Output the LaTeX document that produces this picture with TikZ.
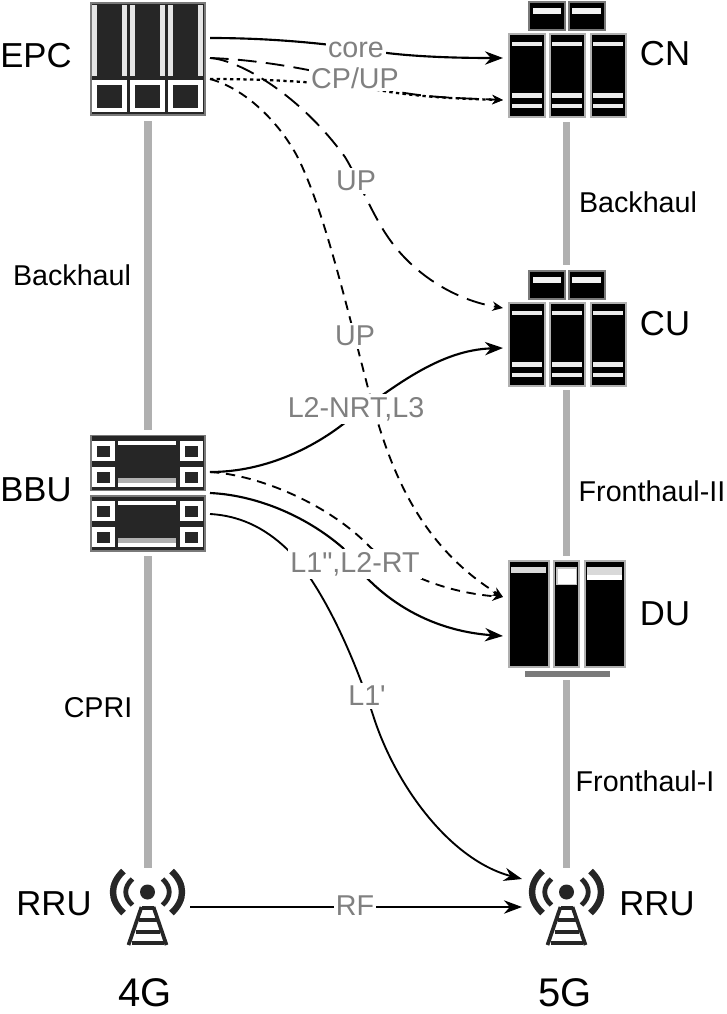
\documentclass[tikz,border=0pt]{standalone}
\usepackage{fontspec}
\setmainfont{Liberation Sans}[Ligatures=TeXOff]
\usetikzlibrary{arrows.meta}
\definecolor{ink}{HTML}{262626}
\definecolor{rim}{HTML}{7A7A7A}
\definecolor{pale}{HTML}{B0B0B0}
\definecolor{lab}{HTML}{808080}
\newcommand{\fs}[1]{\fontsize{#1}{#1}\selectfont}
\tikzset{
 x=0.75pt,y=-0.75pt,
 link/.style={pale,line width=5.5pt},
 conn/.style={black,line width=1.6pt,-{Stealth[length=13.5pt,width=10pt]}},
 thin conn/.style={black,line width=1.4pt,-{Stealth[length=8pt,width=7pt]}},
 dconn/.style={thin conn,dash pattern=on 14pt off 7pt},
 sdconn/.style={thin conn,dash pattern=on 7pt off 5pt},
 dotconn/.style={thin conn,line width=1.7pt,dash pattern=on 2.5pt off 2.5pt},
 hub/.style={inner sep=0pt,outer sep=0pt},
 linklab/.style={lab,fill=white,inner xsep=1.5pt,inner ysep=2pt,font=\fs{21.5}},
 blk/.style={black,inner sep=0pt,font=\fs{21.5}},
 big/.style={black,inner sep=0pt,font=\fs{26}},
 huge/.style={black,inner sep=0pt,font=\fs{30}},
}
\newcommand{\rackcol}[4]{\fill[black,draw=pale,line width=1.5pt] (#1,#3) rectangle (#2,#4);}
\newcommand{\stripe}[5][white]{\fill[#1] (#2,#3) rectangle (#4,#5);}
\newcommand{\server}[1]{%
 \begin{scope}[yshift=#1*-0.75pt]
  \fill[black,draw=rim,line width=1pt] (529,2) rectangle (565,30);
  \fill[black,draw=rim,line width=1pt] (569,2) rectangle (605,30);
  \stripe[gray!10]{533}{8}{561}{14}\stripe[gray!10]{572}{8}{601}{14}
  \foreach \a/\b in {509/544.5,549.5/585,590.5/626}{
   \rackcol{\a}{\b}{34}{117}
   \stripe[gray!15]{\a+2.5}{41.5}{\b-3}{45.7}
   \stripe[gray!15]{\a+2.5}{93}{\b-3}{97.5}
   \stripe[gray!15]{\a+2.5}{104}{\b-3}{108}
  }
 \end{scope}}
\newcommand{\bbu}[1]{%
 \begin{scope}[yshift=#1*-0.75pt]
  \fill[ink,draw=rim,line width=1.2pt] (91,0) rectangle (205,55);
  \foreach \a in {92,180}{\foreach \b in {5,31}{
   \fill[white] (\a,\b) rectangle (\a+23,\b+20);
   \fill[ink] (\a+5,\b+5) rectangle (\a+18,\b+16);}}
  \fill[white] (118,5) rectangle (176,9);
  \fill[white] (118,42) rectangle (176,51);
  \fill[pale] (118,42) rectangle (176,47);
 \end{scope}}
\newcommand{\mast}[2]{%
 \begin{scope}[shift={(#1,#2)}]
 \fill[ink] (0,0) circle[radius=7.5];
 \foreach \s in {-1,1}{
  \draw[ink,line width=4.8pt] (\s*24,-21) .. controls (\s*38,-8) and (\s*38,8) .. (\s*24,21);
  \draw[ink,line width=3.6pt] (\s*15,-13) .. controls (\s*24,-5) and (\s*24,5) .. (\s*15,13);
 }
 \draw[ink,line width=2.8pt] (-6,15) -- (-19,53) (6,15) -- (19,53);
 \draw[ink,line width=2.4pt] (-6,16) -- (6,16) (-9,28) -- (9,28) (-12,40) -- (12,40) (-16,51) -- (16,51);
 \end{scope}}
\begin{document}
\begin{tikzpicture}
\useasboundingbox (0,0) rectangle (726,1014);
% named hubs
\node[hub] (epc) at (148,59) {};
\node[hub] (bbu) at (148,493) {};
\node[hub] (rrua) at (148,892) {};
\node[hub] (cn) at (566,75) {};
\node[hub] (cu) at (566,343) {};
\node[hub] (du) at (566,615) {};
\node[hub] (rrub) at (566,892) {};
\coordinate (epcS) at (148,121);\coordinate (bbuN) at (148,430);\coordinate (bbuS) at (148,556);\coordinate (rruaN) at (148,868);
\coordinate (cnS) at (566.5,122);\coordinate (cuN) at (566.5,265);\coordinate (cuS) at (566.5,390);\coordinate (duN) at (566.5,556);\coordinate (duS) at (566.5,680);\coordinate (rrubN) at (566.5,868);
\coordinate (e1) at (210,38);\coordinate (e2) at (210,58);\coordinate (e3) at (210,79);
\coordinate (b1) at (210,472);\coordinate (b2) at (210,493);\coordinate (b3) at (210,514);
\coordinate (cn1) at (503,58);\coordinate (cn2) at (503,100);\coordinate (cu1) at (503,308);\coordinate (cu2) at (503,348);
\coordinate (du1) at (503,597);\coordinate (du2) at (503,636);\coordinate (rb) at (522,879);\coordinate (rb2) at (522,907);\coordinate (ra) at (190,907);
% links
\draw[link] (epcS)--(bbuN);\draw[link] (bbuS)--(rruaN);
\draw[link] (cnS)--(cuN);\draw[link] (cuS)--(duN);\draw[link] (duS)--(rrubN);
% EPC
\fill[ink,draw=rim,line width=1.2pt] (91,3) rectangle (205,115);
\foreach \a in {92,130,168}{
 \fill[gray!20] (\a,5) rectangle (\a+5,76);
 \fill[gray!20] (\a+30,5) rectangle (\a+35,76);
 \fill[white] (\a,80) rectangle (\a+35,112);
 \fill[ink] (\a+5,85) rectangle (\a+30,108);
}
% servers
\server{0}\server{269}
% DU
\rackcol{508.5}{549}{561}{667}\rackcol{554}{579}{561}{667}\rackcol{585}{625}{561}{667}
\stripe[gray!30]{511}{567}{546}{573}
\stripe[gray!45]{556}{567}{577}{585}\stripe[white]{558}{569}{576}{584}
\stripe[gray!30]{587}{567}{622}{575}\stripe[white]{587}{575}{622}{580}
\fill[rim] (525,671) rectangle (610,677);
% BBU
\bbu{435.5}\bbu{496}
% antennas
\mast{147.5}{892}\mast{566.5}{892}
% connectors
\draw[conn] (e1) .. controls (280,38) and (340,45) .. (387,53) .. controls (420,57) and (460,58) .. (cn1);
\draw[dconn] (e2) .. controls (270,60) and (340,75) .. (380,88) .. controls (420,98) and (460,98) .. (cn2);
\draw[dotconn] (e3) .. controls (290,79) and (350,85) .. (390,92) .. controls (430,98) and (470,99) .. (cn2);
\draw[dconn] (e2) .. controls (240,60) and (300,95) .. (345,157) .. controls (358,178) and (372,215) .. (390,240) .. controls (415,275) and (455,300) .. (cu1);
\draw[sdconn] (e3) .. controls (250,90) and (285,130) .. (300,162) .. controls (325,215) and (345,300) .. (368,388) .. controls (385,450) and (410,540) .. (du1);
\draw[conn] (b1) .. controls (260,472) and (305,452) .. (338,428) .. controls (395,385) and (440,350) .. (cu2);
\draw[sdconn] (b1) .. controls (260,475) and (330,505) .. (370,547) .. controls (395,570) and (440,592) .. (du1);
\draw[conn] (b2) .. controls (255,495) and (305,515) .. (343,548) .. controls (370,590) and (420,630) .. (du2);
\draw[conn,line width=1.4pt] (b3) .. controls (245,516) and (270,532) .. (290,552) .. controls (325,590) and (355,660) .. (373,715) .. controls (395,785) and (450,860) .. (rb);
\draw[conn,line width=1.9pt] (ra) -- (rb2);
% link labels
\node[linklab] (l1) at (356,50) {core};
\node[linklab] (l2) at (355,78) {CP/UP};
\node[linklab] (l3) at (356,181) {UP};
\node[linklab] (l4) at (355,336) {UP};
\node[linklab] (l5) at (356,409) {L2-NRT,L3};
\node[linklab] (l6) at (355,564) {L1",L2-RT};
\node[linklab] (l7) at (367,696) {L1'};
\node[linklab] (l8) at (355,906) {RF};
% side labels
\node[blk] (t1) at (72,275) {Backhaul};
\node[blk] (t2) at (638,202) {Backhaul};
\node[blk] (t3) at (652,491) {Fronthaul-II};
\node[blk] (t4) at (645,781) {Fronthaul-I};
\node[blk] (t5) at (98,708) {CPRI};
\node[big] (n1) at (36,56) {EPC};
\node[big] (n2) at (665,54) {CN};
\node[big] (n3) at (665,324) {CU};
\node[big] (n4) at (665,614) {DU};
\node[big] (n5) at (36,490) {BBU};
\node[big] (n6) at (54,904) {RRU};
\node[big] (n7) at (657,904) {RRU};
\node[huge] (n8) at (145,993) {4G};
\node[huge] (n9) at (565,993) {5G};
\end{tikzpicture}
\end{document}
